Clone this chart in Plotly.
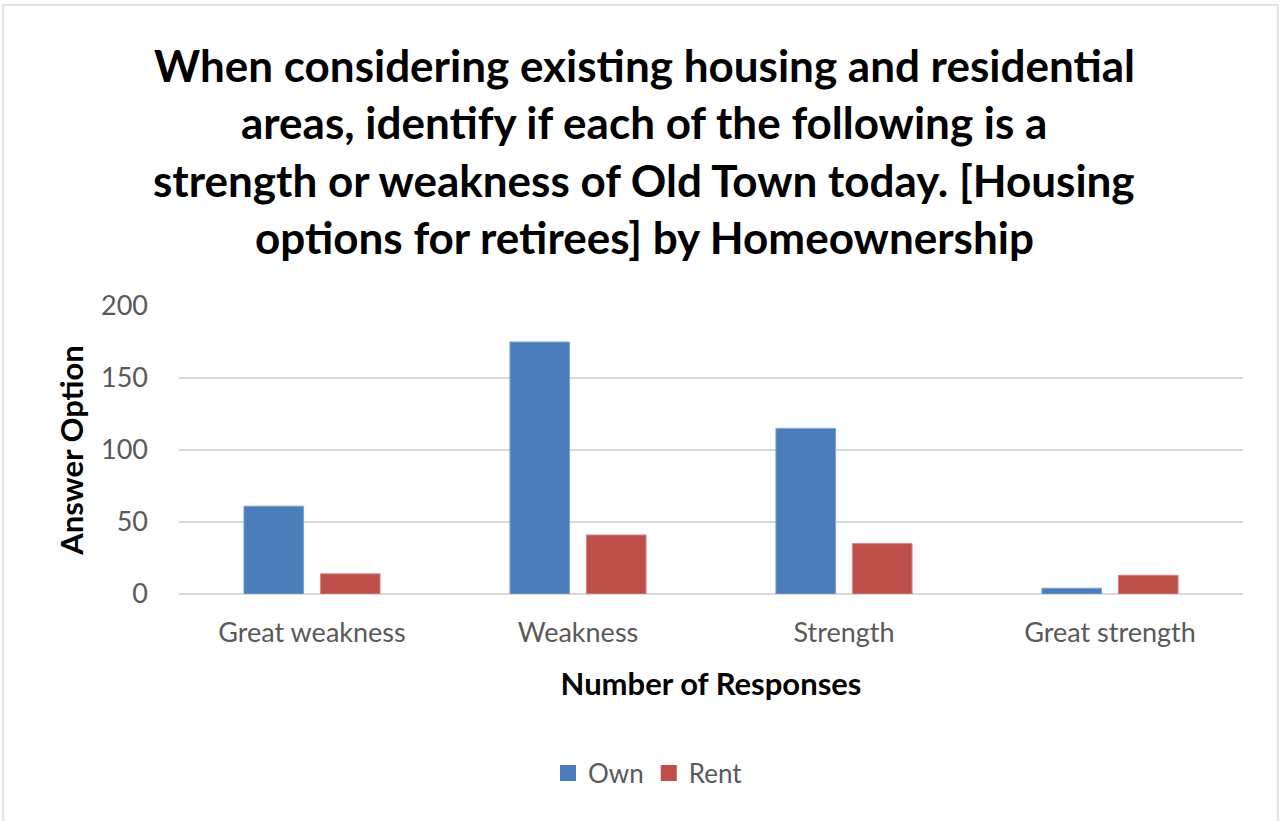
import plotly.graph_objects as go

# Survey responses by homeownership
categories = ["Great weakness", "Weakness", "Strength", "Great strength"]
own_counts = [61, 175, 115, 4]
rent_counts = [14, 41, 35, 13]
y_ticks = [0, 50, 100, 150, 200]

title_lines = [
    "When considering existing housing and residential",
    "areas, identify if each of the following is a",
    "strength or weakness of Old Town today. [Housing",
    "options for retirees] by Homeownership",
]

FONT = "Lato"
W, H = 1279, 821
L, R, T, B = 179, 36, 306, 227
OWN_COLOR, RENT_COLOR = "#4A7DBA", "#BE4F4B"

fig = go.Figure()
fig.add_trace(go.Bar(
    name="Own", x=categories, y=own_counts, showlegend=False,
    marker=dict(color=OWN_COLOR, line=dict(color="#7FA3D2", width=1)),
))
fig.add_trace(go.Bar(
    name="Rent", x=categories, y=rent_counts, showlegend=False,
    marker=dict(color=RENT_COLOR, line=dict(color="#D98683", width=1)),
))
# legend entries with larger square swatches
for name, color in [("Own", OWN_COLOR), ("Rent", RENT_COLOR)]:
    fig.add_trace(go.Scatter(
        name=name, x=[None], y=[None], mode="markers",
        marker=dict(symbol="square", size=18, color=color),
    ))

plot_w = W - L - R
plot_h = H - T - B

def px_to_paper_x(px):
    return (px - L) / plot_w

def px_to_paper_y(py):
    return (H - B - py) / plot_h

# title lines, one annotation each for even spacing
line_y = [65, 122, 180, 237]
for txt, py in zip(title_lines, line_y):
    fig.add_annotation(
        text=txt, xref="paper", yref="paper",
        x=px_to_paper_x(644), y=px_to_paper_y(py),
        xanchor="center", yanchor="middle", showarrow=False,
        font=dict(family=FONT, size=44, color="#000000", weight="bold"),
    )

# outer chart border
fig.add_shape(
    type="rect", xref="paper", yref="paper",
    x0=px_to_paper_x(3), x1=px_to_paper_x(1278),
    y0=px_to_paper_y(830), y1=px_to_paper_y(5),
    line=dict(color="#D9D9D9", width=1.5), fillcolor="rgba(0,0,0,0)",
    layer="below",
)

fig.update_layout(
    width=W, height=H,
    margin=dict(l=L, r=R, t=T, b=B, autoexpand=False),
    paper_bgcolor="white", plot_bgcolor="white",
    barmode="group", bargap=0.425, bargroupgap=0.22,
    font=dict(family=FONT, color="#595959"),
    showlegend=True,
    legend=dict(
        orientation="h", xanchor="center", yanchor="middle",
        x=px_to_paper_x(648), y=px_to_paper_y(773),
        font=dict(family=FONT, size=26, color="#595959"),
        itemwidth=30, traceorder="normal", itemsizing="trace",
    ),
    xaxis=dict(
        showgrid=False, showline=False, ticks="",
        tickfont=dict(family=FONT, size=27, color="#595959"),
        ticklabelstandoff=20,
        title=dict(text="Number of Responses", standoff=26,
                   font=dict(family=FONT, size=31, color="#000000", weight="bold")),
    ),
    yaxis=dict(
        range=[0, 200], tickvals=y_ticks, ticktext=[str(v) for v in y_ticks],
        showgrid=True, gridcolor="#D9D9D9", gridwidth=1.5,
        zeroline=True, zerolinecolor="#D9D9D9", zerolinewidth=1.5,
        showline=False, ticks="",
        tickfont=dict(family=FONT, size=27, color="#595959"),
        ticklabelstandoff=30,
        title=dict(text="Answer Option", standoff=8,
                   font=dict(family=FONT, size=31, color="#000000", weight="bold")),
    ),
)

fig.write_html("out.html")
